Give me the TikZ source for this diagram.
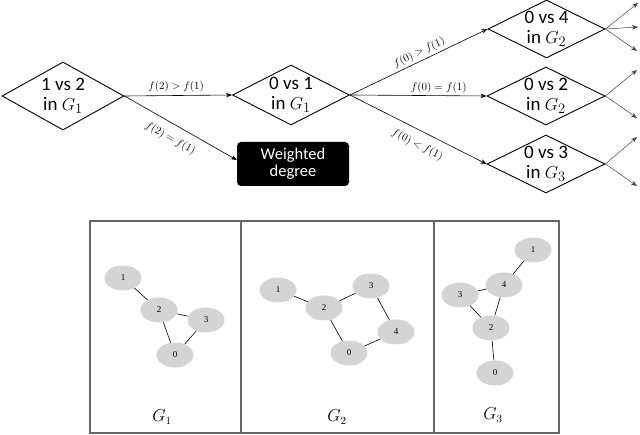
\documentclass[tikz,border=0pt]{standalone}
\usepackage{fontspec}
\setmainfont{Carlito}
\newfontfamily\gserif{Liberation Serif}
\usetikzlibrary{shapes.geometric,arrows.meta}
\begin{document}
\begin{tikzpicture}[x=1pt,y=-1pt,
  dia/.style={draw,shape=diamond,line width=0.9pt,inner sep=0pt},
  dtxt/.style={align=center,font=\fontsize{19}{20}\selectfont,inner sep=0pt},
  arr/.style={line width=0.6pt,-{Stealth[length=6pt,width=4.5pt]}},
  outarr/.style={line width=0.5pt,draw=black!75,-{Stealth[length=6pt,width=4.5pt]}},
  lab/.style={font=\fontsize{11}{11}\selectfont,inner sep=2.5pt},
  wdbox/.style={fill=black,text=white,rounded corners=4pt,align=center,font=\fontsize{16.5}{17}\selectfont,minimum width=112pt,minimum height=44pt,inner sep=0pt},
  panel/.style={draw=black!60,line width=1.2pt,minimum height=212pt,inner sep=0pt},
  gn/.style={ellipse,fill=black!17,minimum width=37pt,minimum height=25pt,inner sep=0pt,font=\gserif\fontsize{9}{9}\selectfont},
  ge/.style={line width=0.6pt},
  glab/.style={font=\fontsize{16}{16}\selectfont}
]
\useasboundingbox (0,0) rectangle (640,435);

% decision diamonds
\node[dia,minimum width=122pt,minimum height=68pt,label={[dtxt]center:{1 vs 2\\in $G_1$}}] (d1) at (63,96) {};
\node[dia,minimum width=117pt,minimum height=60pt,label={[dtxt]center:{0 vs 1\\in $G_1$}}] (d2) at (291,95) {};
\node[dia,minimum width=117pt,minimum height=58pt,label={[dtxt]center:{0 vs 4\\in $G_2$}}] (d3) at (546.5,29) {};
\node[dia,minimum width=118pt,minimum height=58pt,label={[dtxt]center:{0 vs 2\\in $G_2$}}] (d4) at (546,96) {};
\node[dia,minimum width=118pt,minimum height=58pt,label={[dtxt]center:{0 vs 3\\in $G_3$}}] (d5) at (546,164) {};
\node[wdbox] (wd) at (293,164) {Weighted\\degree};

% connectors
\draw[arr] (d1.east) -- node[lab,above,pos=.48]{$f(2)>f(1)$} (d2.west);
\draw[arr] (d1.east) -- node[lab,below=6pt,sloped,pos=.47]{$f(2)=f(1)$} ([yshift=4pt]wd.west);
\draw[arr] (d2.east) -- node[lab,above,sloped,pos=.53]{$f(0)>f(1)$} (d3.west);
\draw[arr] (d2.east) -- node[lab,above,pos=.65]{$f(0)=f(1)$} (d4.west);
\draw[arr] (d2.east) -- node[lab,below=6pt,sloped,pos=.54]{$f(0)<f(1)$} (d5.west);

% outgoing arrows
\coordinate (o1) at (638,3);
\coordinate (o2) at (638,27);
\coordinate (o3) at (637,51);
\coordinate (o4) at (637,70);
\coordinate (o5) at (637,118);
\coordinate (o6) at (637,137);
\coordinate (o7) at (637,186);
\draw[outarr] (d3.east) -- (o1);
\draw[outarr] (d3.east) -- (o2);
\draw[outarr] (d3.east) -- (o3);
\draw[outarr] (d4.east) -- (o4);
\draw[outarr] (d4.east) -- (o5);
\draw[outarr] (d5.east) -- (o6);
\draw[outarr] (d5.east) -- (o7);

% panels
\node[panel,minimum width=151pt] (p1) at (165.5,327) {};
\node[panel,minimum width=193pt] (p2) at (337.5,327) {};
\node[panel,minimum width=125pt] (p3) at (496.5,327) {};

% G1
\node[gn] (a1) at (123,278) {1};
\node[gn] (a2) at (159,310) {2};
\node[gn] (a3) at (206,320) {3};
\node[gn] (a0) at (175,355) {0};
\draw[ge] (a1) -- (a2);
\draw[ge] (a2) -- (a3);
\draw[ge] (a2) -- (a0);
\draw[ge] (a3) -- (a0);
\node[glab] (g1) at (162,417) {$G_1$};

% G2
\node[gn] (b1) at (278,290) {1};
\node[gn] (b2) at (324,308) {2};
\node[gn] (b3) at (371,286) {3};
\node[gn] (b4) at (396,332) {4};
\node[gn] (b0) at (349,353) {0};
\draw[ge] (b1) -- (b2);
\draw[ge] (b2) -- (b3);
\draw[ge] (b3) -- (b4);
\draw[ge] (b4) -- (b0);
\draw[ge] (b0) -- (b2);
\node[glab] (g2) at (337,417) {$G_2$};

% G3
\node[gn] (c1) at (533,250) {1};
\node[gn] (c4) at (504,285) {4};
\node[gn] (c3) at (460,295) {3};
\node[gn] (c2) at (491,328) {2};
\node[gn] (c0) at (495,373) {0};
\draw[ge] (c1) -- (c4);
\draw[ge] (c4) -- (c3);
\draw[ge] (c4) -- (c2);
\draw[ge] (c3) -- (c2);
\draw[ge] (c2) -- (c0);
\node[glab] (g3) at (493,415) {$G_3$};
\end{tikzpicture}
\end{document}
